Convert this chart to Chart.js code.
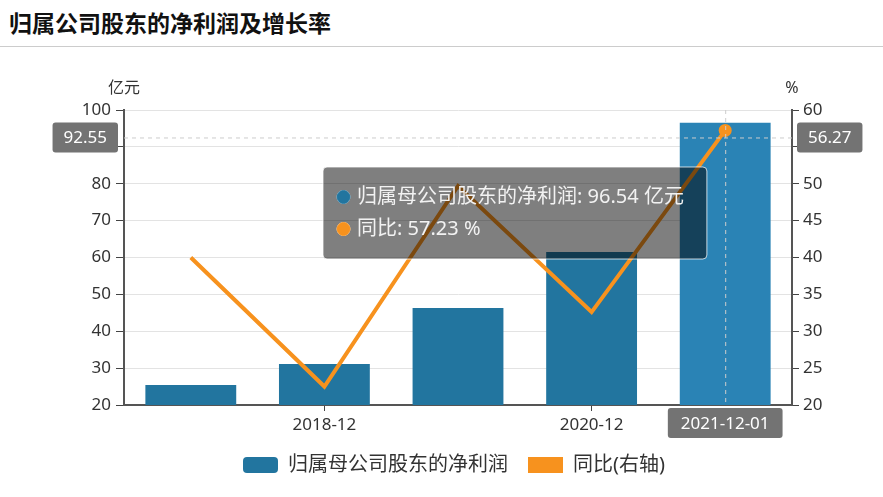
<!DOCTYPE html>
<html lang="zh">
<head>
  <meta charset="UTF-8">
  <title>归属公司股东的净利润及增长率</title>
  <script src="https://cdn.jsdelivr.net/npm/chart.js"></script>
  <style>
    body {
      margin: 0;
      background: #fff;
      font-family: 'Noto Sans CJK SC', sans-serif;
    }
    .header {
      height: 46px;
      line-height: 44px;
      padding-left: 9px;
      font-size: 23px;
      font-weight: bold;
      color: #111;
      border-bottom: 1px solid #ccc;
    }
    .chart-box {
      position: relative;
      width: 883px;
      height: 450px;
    }
  </style>
</head>
<body>
  <div class="header">归属公司股东的净利润及增长率</div>
  <div class="chart-box"><canvas id="myChart"></canvas></div>

  <script>
    // data
    const categories = ['2017-12', '2018-12', '2019-12', '2020-12', '2021-12'];
    const shownLabels = ['2018-12', '2020-12'];
    const profitValues = [25.4, 31.1, 46.3, 61.5, 96.54];
    const growthValues = [40.0, 22.5, 49.7, 32.6, 57.23];
    const seriesNames = ['归属母公司股东的净利润', '同比(右轴)'];
    const tooltipNames = ['归属母公司股东的净利润', '同比'];
    const units = ['亿元', '%'];

    // hovered position shown in the picture
    const pointerIndex = 4;
    const pointerLeftValue = 92.55;
    const pointerRightValue = 56.27;
    const pointerDateLabel = '2021-12-01';

    const barColor = '#22759f';
    const barActiveColor = '#2a83b5';
    const lineColor = '#f7921e';
    const fontFamily = "'Noto Sans', 'Noto Sans CJK SC', sans-serif";

    Chart.Tooltip.positioners.fixedBox = function () {
      return { x: 327, y: 120 };
    };

    function roundBox(ctx, x, y, w, h, r) {
      ctx.beginPath();
      ctx.roundRect(x, y, w, h, r);
      ctx.fill();
    }

    const extras = {
      id: 'extras',
      afterDatasetsDraw(chart) {
        const ctx = chart.ctx;
        const area = chart.chartArea;
        const px = chart.scales.x.getPixelForValue(pointerIndex);
        const py = chart.scales.yLeft.getPixelForValue(pointerLeftValue);
        ctx.save();
        ctx.strokeStyle = '#cccccc';
        ctx.lineWidth = 1;
        ctx.setLineDash([4, 4]);
        ctx.beginPath();
        ctx.moveTo(area.left, py + 0.5);
        ctx.lineTo(area.right, py + 0.5);
        ctx.moveTo(px + 0.5, area.top);
        ctx.lineTo(px + 0.5, area.bottom);
        ctx.stroke();
        ctx.restore();
      },
      afterDraw(chart) {
        const ctx = chart.ctx;
        const area = chart.chartArea;
        const px = chart.scales.x.getPixelForValue(pointerIndex);
        const py = chart.scales.yLeft.getPixelForValue(pointerLeftValue);
        ctx.save();

        // unit names above the axes
        ctx.fillStyle = '#333';
        ctx.font = '16px ' + fontFamily;
        ctx.textAlign = 'center';
        ctx.textBaseline = 'middle';
        ctx.fillText(units[0], area.left, area.top - 22);
        ctx.fillText(units[1], area.right, area.top - 22);

        // axis pointer labels
        ctx.font = '17px ' + fontFamily;
        const leftText = pointerLeftValue.toFixed(2);
        const rightText = pointerRightValue.toFixed(2);
        let w = ctx.measureText(leftText).width + 22;
        ctx.fillStyle = '#737373';
        roundBox(ctx, area.left - 6 - w, py - 15, w, 30, 3);
        ctx.fillStyle = '#fff';
        ctx.fillText(leftText, area.left - 6 - w / 2, py + 1);

        w = ctx.measureText(rightText).width + 22;
        ctx.fillStyle = '#737373';
        roundBox(ctx, area.right + 5, py - 15, w, 30, 3);
        ctx.fillStyle = '#fff';
        ctx.fillText(rightText, area.right + 5 + w / 2, py + 1);

        w = ctx.measureText(pointerDateLabel).width + 26;
        ctx.fillStyle = '#737373';
        roundBox(ctx, px - w / 2, area.bottom + 3, w, 30, 3);
        ctx.fillStyle = '#fff';
        ctx.fillText(pointerDateLabel, px, area.bottom + 19);

        // legend
        ctx.font = '20px ' + fontFamily;
        ctx.textAlign = 'left';
        const cy = 418;
        let x = 243;
        const colors = [barColor, lineColor];
        seriesNames.forEach((name, i) => {
          ctx.fillStyle = colors[i];
          roundBox(ctx, x, cy - 8, 35, 16, i === 0 ? 4 : 0);
          ctx.fillStyle = '#333';
          ctx.fillText(name, x + 45, cy);
          x += 45 + ctx.measureText(name).width + 20;
        });
        ctx.restore();
      }
    };

    const ctx = document.getElementById('myChart').getContext('2d');
    const chart = new Chart(ctx, {
      type: 'bar',
      data: {
        labels: categories,
        datasets: [{
          type: 'bar',
          label: seriesNames[0],
          data: profitValues,
          yAxisID: 'yLeft',
          order: 2,
          backgroundColor: categories.map((c, i) => i === pointerIndex ? barActiveColor : barColor),
          categoryPercentage: 1,
          barPercentage: 0.68
        }, {
          type: 'line',
          label: seriesNames[1],
          data: growthValues,
          yAxisID: 'yRight',
          order: 1,
          borderColor: lineColor,
          backgroundColor: lineColor,
          borderWidth: 4,
          tension: 0,
          pointRadius: c => c.dataIndex === pointerIndex ? 6.5 : 0,
          pointBorderWidth: 0
        }]
      },
      options: {
        responsive: true,
        maintainAspectRatio: false,
        animation: false,
        events: [],
        layout: { padding: { top: 63, left: 0, right: 0, bottom: 0 } },
        scales: {
          x: {
            offset: true,
            grid: {
              offset: false,
              drawOnChartArea: false,
              tickLength: 6,
              tickColor: c => shownLabels.includes(categories[c.index]) ? '#444' : 'rgba(0,0,0,0)'
            },
            border: { color: '#555', width: 2 },
            ticks: {
              autoSkip: false,
              maxRotation: 0,
              padding: 4,
              color: '#333',
              font: { family: fontFamily, size: 17 },
              callback: (v, i) => shownLabels.includes(categories[i]) ? categories[i] : ''
            },
            afterFit(s) { s.height = 92; }
          },
          yLeft: {
            position: 'left',
            min: 20,
            max: 100,
            ticks: { stepSize: 10, padding: 5, color: '#333', font: { family: fontFamily, size: 17 } },
            grid: { color: '#e3e3e3', tickLength: 8, tickColor: '#444' },
            border: { color: '#555', width: 2 },
            afterFit(s) { s.width = 124; }
          },
          yRight: {
            position: 'right',
            min: 20,
            max: 60,
            ticks: { stepSize: 5, padding: 4, color: '#333', font: { family: fontFamily, size: 17 } },
            grid: { drawOnChartArea: false, tickLength: 7, tickColor: '#444' },
            border: { color: '#555', width: 2 },
            afterFit(s) { s.width = 91; }
          }
        },
        plugins: {
          legend: { display: false },
          tooltip: {
            position: 'fixedBox',
            xAlign: 'left',
            yAlign: 'top',
            caretSize: 0,
            caretPadding: 0,
            cornerRadius: 4,
            backgroundColor: 'rgba(0,0,0,0.5)',
            borderColor: 'rgba(255,255,255,0.75)',
            borderWidth: 1,
            padding: { top: 18, bottom: 18, left: 14, right: 23 },
            bodyColor: '#f2f2f2',
            bodyFont: { family: fontFamily, size: 20 },
            bodySpacing: 8,
            boxWidth: 13,
            boxHeight: 13,
            boxPadding: 5,
            usePointStyle: true,
            itemSort: (a, b) => a.datasetIndex - b.datasetIndex,
            callbacks: {
              title: () => [],
              label: c => c.datasetIndex === 0
                ? tooltipNames[0] + ': ' + c.parsed.y.toFixed(2) + ' ' + units[0]
                : tooltipNames[1] + ': ' + c.parsed.y.toFixed(2) + ' ' + units[1],
              labelColor: c => {
                const col = c.datasetIndex === 0 ? barColor : lineColor;
                return { borderColor: col, backgroundColor: col };
              },
              labelPointStyle: () => ({ pointStyle: 'circle', rotation: 0 })
            }
          }
        }
      },
      plugins: [extras]
    });

    chart.tooltip.setActiveElements([
      { datasetIndex: 0, index: pointerIndex },
      { datasetIndex: 1, index: pointerIndex }
    ], { x: 500, y: 150 });
    chart.update();
  </script>
</body>
</html>
